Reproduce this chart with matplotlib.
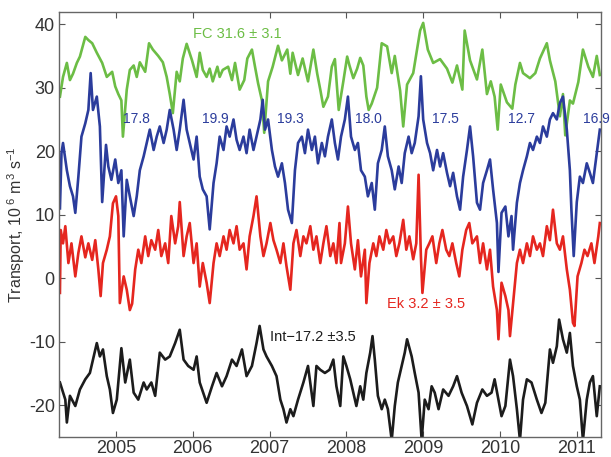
import matplotlib
matplotlib.use('Agg')
import matplotlib.pyplot as plt

plt.rcParams['font.family'] = 'Liberation Sans'
plt.rcParams['mathtext.fontset'] = 'custom'
plt.rcParams['mathtext.rm'] = 'Liberation Sans'
plt.rcParams['mathtext.it'] = 'Liberation Sans:italic'
plt.rcParams['axes.unicode_minus'] = False

# Florida Current (green), decimal years and Sv
fc_t = [2004.27, 2004.31, 2004.36, 2004.40, 2004.44, 2004.49, 2004.53, 2004.60, 2004.64, 2004.69,
        2004.75, 2004.82, 2004.88, 2004.95, 2004.99, 2005.03, 2005.07, 2005.09, 2005.14, 2005.18,
        2005.23, 2005.27, 2005.31, 2005.38, 2005.43, 2005.48, 2005.55, 2005.61, 2005.66, 2005.70,
        2005.74, 2005.79, 2005.83, 2005.87, 2005.92, 2005.99, 2006.05, 2006.09, 2006.13, 2006.18,
        2006.22, 2006.26, 2006.32, 2006.35, 2006.39, 2006.46, 2006.51, 2006.55, 2006.61, 2006.67,
        2006.71, 2006.77, 2006.81, 2006.85, 2006.90, 2006.93, 2006.98, 2007.04, 2007.11, 2007.16,
        2007.23, 2007.27, 2007.30, 2007.37, 2007.43, 2007.50, 2007.57, 2007.62, 2007.66, 2007.70,
        2007.76, 2007.81, 2007.85, 2007.90, 2007.96, 2008.01, 2008.04, 2008.09, 2008.14, 2008.18,
        2008.22, 2008.26, 2008.29, 2008.33, 2008.40, 2008.46, 2008.53, 2008.59, 2008.63, 2008.70,
        2008.74, 2008.79, 2008.87, 2008.96, 2009.00, 2009.06, 2009.13, 2009.22, 2009.31, 2009.38,
        2009.44, 2009.51, 2009.54, 2009.61, 2009.70, 2009.77, 2009.83, 2009.88, 2009.93, 2009.97,
        2010.01, 2010.09, 2010.16, 2010.20, 2010.26, 2010.30, 2010.39, 2010.46, 2010.52, 2010.61,
        2010.65, 2010.72, 2010.78, 2010.82, 2010.85, 2010.91, 2010.95, 2011.02, 2011.08, 2011.15,
        2011.21, 2011.26, 2011.30]
fc_v = [28.6, 31.7, 33.9, 31.2, 32.2, 33.9, 34.9, 38.0, 37.5, 37.0,
        35.5, 33.9, 31.7, 32.5, 30.2, 29.0, 28.0, 22.3, 29.7, 32.8,
        33.5, 31.7, 34.0, 32.5, 37.0, 36.0, 35.0, 34.0, 31.7, 29.0,
        26.0, 32.5, 31.0, 34.6, 36.9, 34.3, 31.7, 35.5, 32.8, 31.7,
        33.0, 31.0, 33.3, 31.7, 32.8, 33.3, 31.2, 33.9, 29.7, 31.2,
        34.6, 36.0, 33.3, 30.7, 28.0, 22.9, 31.0, 33.3, 36.6, 34.3,
        36.0, 32.2, 35.5, 32.0, 34.6, 31.0, 36.0, 32.2, 29.7, 27.0,
        28.6, 33.3, 34.5, 26.5, 31.0, 34.9, 33.5, 31.5, 33.0, 34.7,
        33.5, 28.6, 26.5, 27.5, 30.0, 37.0, 36.5, 32.3, 35.0, 29.5,
        23.9, 30.5, 32.3, 39.0, 40.2, 36.0, 33.9, 34.5, 33.0, 30.8,
        33.5, 29.7, 39.0, 34.3, 31.3, 36.0, 29.0, 31.0, 28.6, 23.4,
        30.5, 27.7, 26.7, 30.5, 33.9, 32.3, 31.5, 32.3, 34.6, 37.0,
        34.3, 31.0, 25.5, 29.0, 22.5, 28.0, 27.5, 30.9, 36.0, 33.3,
        31.7, 35.0, 32.0]

# upper mid-ocean (blue)
umo_t = [2004.27, 2004.29, 2004.31, 2004.36, 2004.40, 2004.44, 2004.47, 2004.51, 2004.55, 2004.60,
         2004.64, 2004.67, 2004.70, 2004.75, 2004.79, 2004.82, 2004.87, 2004.90, 2004.94, 2004.99,
         2005.03, 2005.07, 2005.10, 2005.14, 2005.18, 2005.23, 2005.27, 2005.31, 2005.36, 2005.40,
         2005.44, 2005.49, 2005.53, 2005.57, 2005.62, 2005.66, 2005.70, 2005.75, 2005.79, 2005.83,
         2005.88, 2005.92, 2005.96, 2006.01, 2006.05, 2006.09, 2006.13, 2006.18, 2006.22, 2006.27,
         2006.31, 2006.35, 2006.40, 2006.44, 2006.48, 2006.53, 2006.57, 2006.61, 2006.66, 2006.70,
         2006.74, 2006.79, 2006.83, 2006.88, 2006.91, 2006.94, 2006.98, 2007.03, 2007.07, 2007.11,
         2007.16, 2007.20, 2007.24, 2007.29, 2007.33, 2007.37, 2007.42, 2007.46, 2007.50, 2007.55,
         2007.59, 2007.63, 2007.68, 2007.72, 2007.76, 2007.81, 2007.85, 2007.89, 2007.93, 2007.98,
         2008.02, 2008.06, 2008.11, 2008.15, 2008.19, 2008.24, 2008.28, 2008.33, 2008.37, 2008.41,
         2008.46, 2008.50, 2008.54, 2008.59, 2008.63, 2008.68, 2008.72, 2008.76, 2008.81, 2008.85,
         2008.89, 2008.94, 2008.97, 2009.00, 2009.05, 2009.09, 2009.13, 2009.18, 2009.22, 2009.26,
         2009.31, 2009.35, 2009.39, 2009.44, 2009.48, 2009.52, 2009.57, 2009.61, 2009.65, 2009.70,
         2009.74, 2009.78, 2009.83, 2009.87, 2009.91, 2009.96, 2009.98, 2010.02, 2010.07, 2010.11,
         2010.15, 2010.17, 2010.22, 2010.26, 2010.30, 2010.35, 2010.39, 2010.43, 2010.48, 2010.52,
         2010.56, 2010.61, 2010.65, 2010.69, 2010.74, 2010.78, 2010.82, 2010.87, 2010.91, 2010.93,
         2010.96, 2011.00, 2011.04, 2011.08, 2011.13, 2011.17, 2011.21, 2011.26, 2011.30]
umo_v = [11.0, 19.7, 21.3, 17.0, 14.5, 12.9, 10.3, 16.0, 22.3, 24.4,
         26.5, 32.3, 26.5, 28.6, 23.9, 12.0, 21.0, 17.6, 15.5, 18.7,
         15.0, 17.0, 6.6, 15.5, 12.9, 9.8, 12.9, 17.0, 19.2, 21.3,
         23.4, 20.2, 22.3, 23.9, 21.3, 23.4, 26.5, 23.4, 20.2, 23.4,
         28.1, 23.4, 21.3, 18.7, 22.3, 16.0, 14.0, 12.9, 7.7, 15.0,
         18.1, 22.3, 20.2, 23.9, 22.3, 25.0, 21.8, 20.2, 22.3, 19.7,
         23.4, 20.2, 22.3, 25.0, 28.1, 23.4, 25.0, 20.2, 17.6, 16.0,
         18.1, 15.0, 10.8, 8.7, 17.0, 21.3, 22.3, 19.7, 23.4, 20.2,
         22.3, 18.1, 21.3, 19.2, 22.3, 25.0, 21.3, 18.7, 22.3, 25.0,
         28.6, 22.3, 20.2, 21.3, 17.0, 16.0, 12.9, 15.0, 10.8, 18.1,
         20.2, 23.9, 19.2, 17.0, 14.0, 17.6, 15.0, 19.7, 22.3, 19.7,
         21.3, 25.5, 31.8, 25.0, 21.3, 19.7, 17.0, 20.2, 17.6, 19.7,
         16.6, 14.5, 16.6, 12.9, 10.8, 16.0, 20.2, 23.9, 19.2, 11.9,
         10.8, 15.0, 17.0, 18.7, 14.0, 8.7, 1.0, 10.3, 11.3, 6.6,
         9.8, 4.5, 11.9, 15.0, 17.0, 19.2, 21.3, 20.2, 22.3, 21.3,
         23.9, 22.3, 25.0, 26.0, 25.0, 27.6, 28.6, 23.4, 17.0, 10.8,
         3.5, 12.0, 16.0, 15.0, 18.1, 16.6, 15.0, 19.7, 23.4]

# Ekman (red)
ek_t = [2004.27, 2004.28, 2004.31, 2004.34, 2004.38, 2004.42, 2004.47, 2004.51, 2004.55, 2004.60,
        2004.64, 2004.69, 2004.73, 2004.77, 2004.80, 2004.83, 2004.88, 2004.92, 2004.96, 2005.00,
        2005.03, 2005.05, 2005.10, 2005.14, 2005.18, 2005.21, 2005.25, 2005.29, 2005.33, 2005.38,
        2005.42, 2005.46, 2005.51, 2005.55, 2005.59, 2005.64, 2005.68, 2005.72, 2005.77, 2005.81,
        2005.83, 2005.88, 2005.92, 2005.96, 2006.01, 2006.05, 2006.09, 2006.13, 2006.18, 2006.22,
        2006.27, 2006.31, 2006.35, 2006.40, 2006.44, 2006.48, 2006.53, 2006.57, 2006.61, 2006.66,
        2006.70, 2006.74, 2006.79, 2006.83, 2006.88, 2006.92, 2006.96, 2007.01, 2007.05, 2007.09,
        2007.14, 2007.18, 2007.22, 2007.27, 2007.31, 2007.35, 2007.40, 2007.44, 2007.48, 2007.53,
        2007.57, 2007.61, 2007.66, 2007.70, 2007.74, 2007.79, 2007.83, 2007.87, 2007.91, 2007.93,
        2007.98, 2008.02, 2008.06, 2008.11, 2008.15, 2008.19, 2008.24, 2008.26, 2008.30, 2008.35,
        2008.39, 2008.43, 2008.48, 2008.52, 2008.56, 2008.61, 2008.65, 2008.69, 2008.74, 2008.78,
        2008.82, 2008.87, 2008.91, 2008.94, 2008.97, 2008.99, 2009.04, 2009.08, 2009.12, 2009.17,
        2009.21, 2009.25, 2009.30, 2009.34, 2009.38, 2009.43, 2009.47, 2009.51, 2009.56, 2009.60,
        2009.64, 2009.70, 2009.74, 2009.78, 2009.83, 2009.87, 2009.91, 2009.96, 2009.98, 2010.02,
        2010.07, 2010.11, 2010.13, 2010.17, 2010.22, 2010.26, 2010.30, 2010.35, 2010.39, 2010.43,
        2010.48, 2010.52, 2010.56, 2010.61, 2010.65, 2010.69, 2010.74, 2010.78, 2010.82, 2010.87,
        2010.91, 2010.95, 2010.97, 2011.01, 2011.06, 2011.10, 2011.14, 2011.19, 2011.23, 2011.28,
        2011.30]
ek_v = [-2.3, 7.6, 5.5, 8.2, 2.4, 5.5, 0.3, 4.0, 6.6, 3.3,
        5.5, 2.9, 6.0, 1.4, -2.8, 2.4, 4.5, 6.6, 11.8, 12.9,
        9.8, -3.9, 0.3, -1.8, -5.0, -4.0, 1.4, 4.5, 2.4, 6.6,
        3.5, 6.0, 4.5, 7.6, 3.5, 5.5, 2.4, 9.8, 5.5, 8.2,
        12.0, 3.5, 6.6, 8.7, 2.4, 5.5, -1.3, 2.4, -0.7, -3.9,
        2.4, 5.5, 3.5, 6.6, 4.5, 7.6, 5.5, 8.2, 4.5, 5.5,
        1.4, 6.6, 9.8, 12.9, 6.6, 3.5, 5.5, 8.7, 6.0, 4.5,
        2.4, 5.5, 1.9, -1.8, 5.5, 7.6, 3.5, 6.6, 5.5, 8.2,
        4.5, 6.6, 2.4, 5.5, 8.2, 3.5, 5.5, 2.4, 8.7, 2.4,
        5.5, 11.3, 5.5, 1.4, 6.0, 0.3, 4.5, -3.9, 2.4, 5.5,
        3.5, 6.6, 4.5, 7.6, 5.5, 6.6, 3.5, 5.5, 9.2, 4.5,
        6.6, 3.0, 5.5, 16.3, 3.5, -2.3, 4.5, 5.5, 6.6, 2.4,
        5.5, 7.6, 4.5, 3.5, 5.5, 2.4, 0.3, 4.5, 7.6, 8.7,
        5.5, 6.6, 2.4, 5.5, 1.4, 4.5, -1.3, -5.0, -9.6, -0.7,
        -2.8, -5.0, -9.1, -4.0, 2.4, 4.5, 2.4, 5.5, 3.5, 6.6,
        4.5, 5.5, 3.5, 8.2, 6.0, 10.8, 5.5, 4.5, 6.6, 1.4,
        -1.8, -7.0, -7.5, 0.3, 2.4, 4.5, 3.5, 5.5, 2.4, 6.6,
        8.7]

# interior (black)
int_t = [2004.27, 2004.34, 2004.36, 2004.40, 2004.47, 2004.53, 2004.60, 2004.66, 2004.70, 2004.75,
         2004.79, 2004.83, 2004.88, 2004.92, 2004.96, 2005.01, 2005.07, 2005.12, 2005.18, 2005.23,
         2005.29, 2005.36, 2005.40, 2005.46, 2005.51, 2005.57, 2005.64, 2005.70, 2005.77, 2005.83,
         2005.88, 2005.94, 2006.01, 2006.05, 2006.09, 2006.18, 2006.25, 2006.31, 2006.38, 2006.44,
         2006.51, 2006.57, 2006.64, 2006.70, 2006.77, 2006.83, 2006.87, 2006.92, 2006.96, 2007.03,
         2007.09, 2007.14, 2007.18, 2007.22, 2007.27, 2007.31, 2007.37, 2007.44, 2007.50, 2007.57,
         2007.61, 2007.66, 2007.72, 2007.78, 2007.83, 2007.87, 2007.92, 2007.96, 2008.00, 2008.05,
         2008.09, 2008.13, 2008.18, 2008.22, 2008.26, 2008.31, 2008.34, 2008.37, 2008.41, 2008.46,
         2008.50, 2008.54, 2008.59, 2008.63, 2008.67, 2008.72, 2008.76, 2008.79, 2008.85, 2008.89,
         2008.94, 2008.98, 2009.02, 2009.07, 2009.11, 2009.15, 2009.20, 2009.26, 2009.33, 2009.39,
         2009.44, 2009.50, 2009.57, 2009.64, 2009.70, 2009.77, 2009.83, 2009.89, 2009.93, 2009.98,
         2010.02, 2010.07, 2010.13, 2010.17, 2010.22, 2010.26, 2010.30, 2010.35, 2010.41, 2010.48,
         2010.54, 2010.59, 2010.65, 2010.69, 2010.74, 2010.77, 2010.82, 2010.87, 2010.91, 2010.95,
         2011.00, 2011.04, 2011.08, 2011.13, 2011.17, 2011.21, 2011.26, 2011.30]
int_v = [-16.4, -19.1, -22.7, -18.5, -20.1, -17.5, -15.9, -14.9, -12.8, -10.2,
         -12.3, -11.2, -15.4, -17.5, -21.2, -19.1, -11.0, -16.4, -12.8, -18.0,
         -19.1, -16.4, -17.5, -16.4, -18.5, -11.7, -12.8, -12.3, -10.2, -8.1,
         -12.8, -13.8, -14.4, -12.3, -16.4, -19.6, -17.0, -14.9, -17.0, -15.4,
         -12.8, -13.8, -11.2, -15.4, -13.8, -10.2, -7.5, -11.2, -12.3, -13.8,
         -15.4, -19.1, -20.6, -22.7, -20.6, -21.7, -19.1, -16.4, -13.8, -20.1,
         -13.8, -14.4, -14.9, -14.4, -12.8, -17.0, -20.1, -12.3, -13.8, -15.9,
         -18.0, -20.1, -17.0, -19.1, -14.9, -11.7, -9.1, -12.8, -18.5, -20.6,
         -19.1, -20.6, -25.5, -20.1, -16.4, -13.8, -11.7, -9.6, -12.3, -14.9,
         -18.0, -25.5, -19.1, -20.6, -17.0, -18.0, -20.6, -17.5, -18.5, -17.0,
         -15.4, -18.0, -20.1, -23.0, -19.6, -17.5, -18.5, -18.0, -15.9, -19.1,
         -21.7, -20.1, -12.8, -15.4, -20.6, -25.5, -19.1, -15.9, -16.4, -19.1,
         -21.2, -19.6, -11.2, -13.3, -10.7, -6.5, -9.6, -11.7, -8.6, -13.8,
         -17.0, -19.1, -25.5, -19.1, -16.4, -15.4, -21.7, -17.0]

years = [2005, 2006, 2007, 2008, 2009, 2010, 2011]
yticks = [-20, -10, 0, 10, 20, 30, 40]
means = ['17.8', '19.9', '19.3', '18.0', '17.5', '12.7', '16.9']
mean_t = [2005.09, 2006.12, 2007.10, 2008.11, 2009.11, 2010.10, 2011.08]

green = '#6cbd45'
blue = '#2b3c9c'
red = '#e5261f'
black = '#1c1c1c'

fig = plt.figure(figsize=(6.11, 4.57), dpi=100)
ax = fig.add_axes([0.0966, 0.0435, 0.887, 0.930])

ax.plot(int_t, int_v, color=black, lw=1.9)
ax.plot(ek_t, ek_v, color=red, lw=1.9)
ax.plot(fc_t, fc_v, color=green, lw=1.9)
ax.plot(umo_t, umo_v, color=blue, lw=1.9)

ax.set_xlim(2004.258, 2011.315)
ax.set_ylim(-25.0, 41.9)
ax.set_xticks(years)
ax.set_yticks(yticks)
ax.tick_params(direction='in', length=4, width=0.8, labelsize=13, colors='#555555',
               labelcolor='#333333', top=True, right=True)
ax.tick_params(axis='x', pad=2)
ax.tick_params(axis='y', pad=3)
for s in ax.spines.values():
    s.set_color('#666666')
    s.set_linewidth(1.0)

ax.set_ylabel('Transport, 10$^{\\ 6}$ m$^3$ s$^{-1}$', fontsize=11.5, color='#333333', labelpad=1)

# annual means of the blue series
for i in range(len(years)):
    ax.text(mean_t[i], 25.0, means[i], color=blue, fontsize=10, va='center', ha='left',
            clip_on=False)

ax.text(2006.0, 38.5, 'FC 31.6 \u00b1 3.1', color=green, fontsize=10.5, va='center')
ax.text(2008.53, -4.1, 'Ek 3.2 \u00b1 3.5', color=red, fontsize=10.5, va='center')
ax.text(2007.01, -9.3, 'Int\u221217.2 \u00b13.5', color=black, fontsize=10.5, va='center')

fig.savefig('out.png', dpi=100)
